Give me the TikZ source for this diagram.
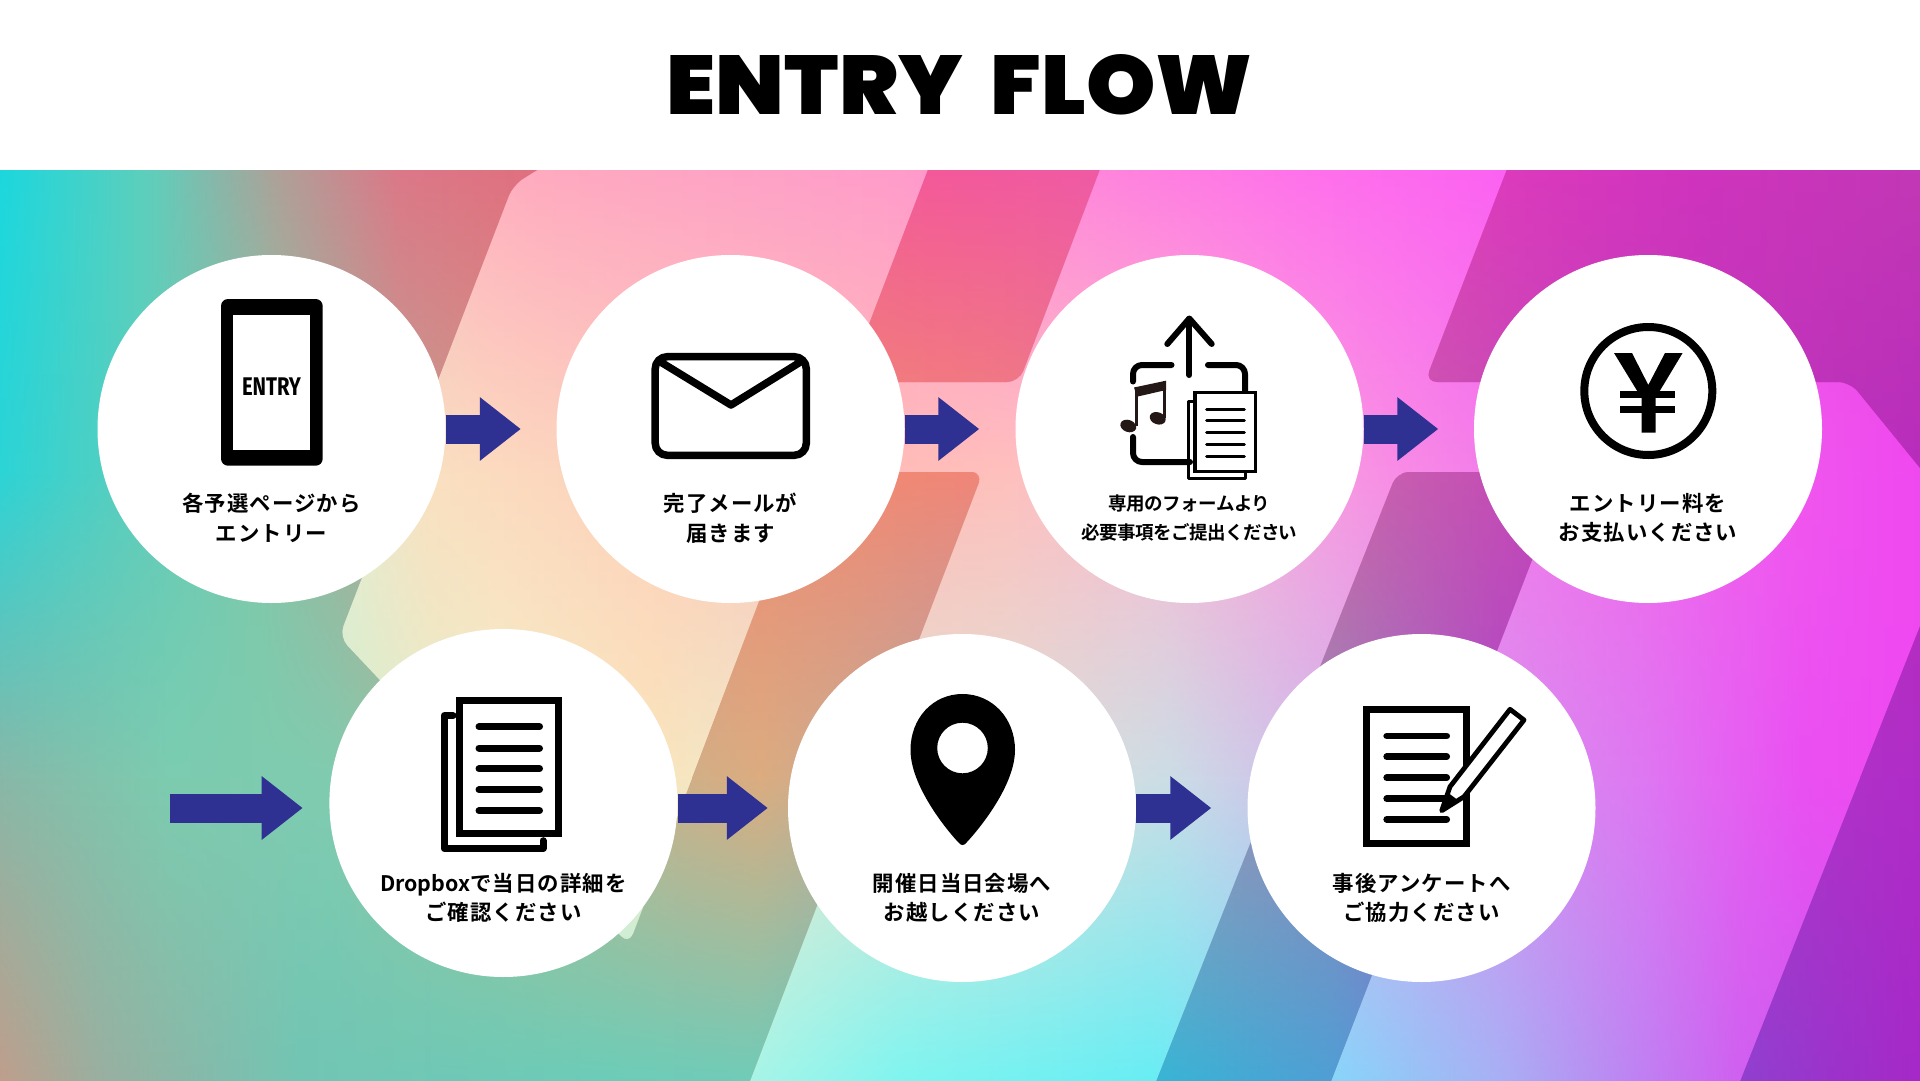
\documentclass[tikz,border=0pt]{standalone}
\usepackage{fontspec}
\usetikzlibrary{arrows.meta,fadings,shapes.geometric}
\newfontfamily\jp{Noto Sans CJK JP Bold}[LetterSpace=5]
\newfontfamily\jptight{Noto Sans CJK JP Bold}[LetterSpace=-3]
\newfontfamily\jplatin{Noto Sans CJK JP Bold}[LetterSpace=0]
\newfontfamily\ttl{Poppins Black}
\newfontfamily\fira{Fira Sans}
\newcommand\hx[1]{\definecolor{x#1}{HTML}{#1}}
\hx{1BD8DE}\hx{5FCFBB}\hx{B0A098}\hx{DC7888}\hx{E0707F}\hx{F4599A}\hx{F05AA5}\hx{DC3ABD}\hx{CF33BE}\hx{C238B5}
\hx{2CD4D6}\hx{55CFC0}\hx{80C8A8}\hx{C0A090}\hx{E09080}\hx{F28A72}\hx{F0857A}\hx{C85CB0}\hx{C040B8}\hx{B82CBC}
\hx{88B8A8}\hx{7CCCB0}\hx{80CCB0}\hx{A0C498}\hx{D0B088}\hx{DCAC80}\hx{AAA8B0}\hx{9488B8}\hx{B048C8}\hx{B02CC8}
\hx{C09E8C}\hx{9AAFA0}\hx{72C5B4}\hx{6CCDB8}\hx{70CCB8}\hx{38B5D5}\hx{4F9FD5}\hx{9040D0}\hx{A628C8}
\hx{60FFFF}\hx{C8D8C8}\hx{FFB0C0}\hx{FFAAC0}\hx{FF9CCB}\hx{FF85DC}\hx{FF72EB}\hx{FC62F2}\hx{E848E0}
\hx{E0F2DC}\hx{FBE0C0}\hx{FFBDB8}\hx{FFC0BC}\hx{FBBCD0}\hx{F88CE6}\hx{F27CEA}\hx{F048F0}
\hx{C8EED0}\hx{F5F0C8}\hx{FBE6BC}\hx{E8E8D0}\hx{E0E0D8}\hx{CCDDE6}\hx{D890F0}\hx{DE78F2}\hx{EA50F2}\hx{F048F2}
\hx{A8F5E8}\hx{80F5F0}\hx{68EEF4}\hx{88D5FA}\hx{A8B0F5}\hx{D060F0}\hx{D050F0}
\pgfdeclarehorizontalshading{dzero}{100bp}{color(0bp)=(x1BD8DE);color(25bp)=(x1BD8DE);color(28.91bp)=(x5FCFBB);color(32.29bp)=(xB0A098);color(35.42bp)=(xDC7888);color(38.8bp)=(xE0707F);color(49.22bp)=(xF4599A);color(53.65bp)=(xF05AA5);color(64.32bp)=(xDC3ABD);color(69.27bp)=(xCF33BE);color(75bp)=(xC238B5);color(100bp)=(xC238B5)}
\pgfdeclarehorizontalshading{done}{100bp}{color(0bp)=(x2CD4D6);color(25bp)=(x2CD4D6);color(28.13bp)=(x55CFC0);color(31.77bp)=(x80C8A8);color(35.42bp)=(xC0A090);color(39.58bp)=(xE09080);color(47.14bp)=(xF28A72);color(51.04bp)=(xF0857A);color(61.46bp)=(xC85CB0);color(66.67bp)=(xC040B8);color(75bp)=(xB82CBC);color(100bp)=(xB82CBC)}
\pgfdeclarehorizontalshading{dtwo}{100bp}{color(0bp)=(x88B8A8);color(25bp)=(x88B8A8);color(29.43bp)=(x7CCCB0);color(33.59bp)=(x80CCB0);color(38.02bp)=(xA0C498);color(42.71bp)=(xD0B088);color(44.79bp)=(xDCAC80);color(51.04bp)=(xAAA8B0);color(59.64bp)=(x9488B8);color(64.06bp)=(xB048C8);color(75bp)=(xB02CC8);color(100bp)=(xB02CC8)}
\pgfdeclarehorizontalshading{dthree}{100bp}{color(0bp)=(xC09E8C);color(25bp)=(xC09E8C);color(27.6bp)=(x9AAFA0);color(32.81bp)=(x72C5B4);color(40.63bp)=(x6CCDB8);color(44.53bp)=(x70CCB8);color(55.21bp)=(x38B5D5);color(59.64bp)=(x4F9FD5);color(70.34bp)=(x9040D0);color(75bp)=(xA628C8);color(100bp)=(xA628C8)}
\pgfdeclarehorizontalshading{lzero}{100bp}{color(0bp)=(x60FFFF);color(25bp)=(x60FFFF);color(32.81bp)=(xC8D8C8);color(37.5bp)=(xFFB0C0);color(39.06bp)=(xFFAAC0);color(48.44bp)=(xFF9CCB);color(53.65bp)=(xFF85DC);color(58.85bp)=(xFF72EB);color(64.06bp)=(xFC62F2);color(75bp)=(xE848E0);color(100bp)=(xE848E0)}
\pgfdeclarehorizontalshading{lone}{100bp}{color(0bp)=(xE0F2DC);color(32.81bp)=(xE0F2DC);color(36.2bp)=(xFBE0C0);color(48.44bp)=(xFFBDB8);color(51.04bp)=(xFFC0BC);color(54.95bp)=(xFBBCD0);color(61.46bp)=(xF88CE6);color(64.06bp)=(xF27CEA);color(75bp)=(xF048F0);color(100bp)=(xF048F0)}
\pgfdeclarehorizontalshading{ltwo}{100bp}{color(0bp)=(xC8EED0);color(32.81bp)=(xC8EED0);color(38.02bp)=(xF5F0C8);color(41.93bp)=(xFBE6BC);color(45.83bp)=(xE8E8D0);color(51.04bp)=(xE0E0D8);color(55.47bp)=(xCCDDE6);color(64.06bp)=(xD890F0);color(67.71bp)=(xDE78F2);color(71.88bp)=(xEA50F2);color(75bp)=(xF048F2);color(100bp)=(xF048F2)}
\pgfdeclarehorizontalshading{lthree}{100bp}{color(0bp)=(xA8F5E8);color(44.53bp)=(xA8F5E8);color(48.44bp)=(x80F5F0);color(54.95bp)=(x68EEF4);color(59.77bp)=(x88D5FA);color(64.06bp)=(xA8B0F5);color(70.34bp)=(xD060F0);color(75bp)=(xD050F0);color(100bp)=(xD050F0)}
\tikzfading[name=fadedown,top color=transparent!100,bottom color=transparent!0]
\newcommand\meshband[4]{%
  \shade[shading=#3] (-1,#1) rectangle (1921,#2);
  \shade[shading=#4,path fading=fadedown] (-1,#1) rectangle (1921,#2);}
\tikzset{
  stepdisc/.style={circle,fill=white,inner sep=0pt,minimum size=348pt},
  caption/.style={align=center,text=black,inner sep=0pt,font=\jp\fontsize{21.4pt}{29.4pt}\selectfont},
  smallcaption/.style={caption,font=\jptight\fontsize{18.5pt}{29.4pt}\selectfont},
  flowarrow/.style={draw=arrowblue,line width=29pt,-{Triangle[length=41pt,width=61pt]}},
  ink/.style={draw=black,fill=none,line cap=round,line join=round},
}
\definecolor{arrowblue}{HTML}{2E3192}
\definecolor{notedark}{HTML}{231815}
\begin{document}
\begin{tikzpicture}[x=1pt,y=-1pt]
\useasboundingbox (0,0) rectangle (1920,1081);
\fill[white] (0,0) rectangle (1920,1081);
\begin{scope}
 \clip (0,170) rectangle (1920,1080);
 % light layer
 \meshband{170}{473.5}{lzero}{lone}
 \meshband{473}{777.5}{lone}{ltwo}
 \meshband{777}{1080}{ltwo}{lthree}
 % dark layer
 \begin{scope}
  \clip[rounded corners=12pt]
    (-40,130) -- (602,130) -- (513,185) -- (339,637) -- (629,945) -- (808,472) -- (983,472) -- (735,1120) -- (-40,1120) -- cycle
    (943,130) -- (1115,130) -- (1019,382) -- (847,382) -- cycle
    (1397,472) -- (1566,472) -- (1316,1120) -- (1141,1120) -- cycle
    (1522,130) -- (1960,130) -- (1960,517) -- (1850,382) -- (1425,382) -- cycle
    (1960,525) -- (1960,1120) -- (1725,1120) -- cycle;
  \meshband{170}{473.5}{dzero}{done}
  \meshband{473}{777.5}{done}{dtwo}
  \meshband{777}{1080}{dtwo}{dthree}
 \end{scope}
\end{scope}
% title
\node[inner sep=0pt] (title) at (960,85) {\resizebox{586pt}{60pt}{\ttl ENTRY\hspace{0.15em} FLOW}};
% discs
\node[stepdisc] (c1) at (271.5,429) {};
\node[stepdisc] (c2) at (730.5,429) {};
\node[stepdisc] (c3) at (1189.5,429) {};
\node[stepdisc] (c4) at (1648,429) {};
\node[stepdisc] (c5) at (503.4,803) {};
\node[stepdisc] (c6) at (962,808) {};
\node[stepdisc] (c7) at (1421.5,808) {};
\coordinate (start) at (169.6,808);
% arrows
\draw[flowarrow,shorten >=35.5pt] (c1.east) -- (c2.west);
\draw[flowarrow,shorten >=36pt] (c2.east) -- (c3.west);
\draw[flowarrow,shorten >=35.5pt] (c3.east) -- (c4.west);
\draw[flowarrow,shorten >=26.5pt] (start) -- (c5.west |- start);
\draw[flowarrow,shorten >=20pt] (c5.east |- c6.center) -- (c6.west);
\draw[flowarrow,shorten >=36pt] (c6.east) -- (c7.west);
% captions
\node[caption] (t1) at (271.5,518) {各予選ページから\\エントリー};
\node[caption] (t2) at (730.5,518) {完了メールが\\届きます};
\node[smallcaption] (t3) at (1189.5,518) {専用のフォームより\\必要事項をご提出ください};
\node[caption] (t4) at (1648,518) {エントリー料を\\お支払いください};
\node[caption] (t5) at (503.4,898) {{\jplatin Dropbox}で当日の詳細を\\ご確認ください};
\node[caption] (t6) at (962,898) {開催日当日会場へ\\お越しください};
\node[caption] (t7) at (1421.5,898) {事後アンケートへ\\ご協力ください};
% phone
\fill[black,rounded corners=7pt] (221,299) rectangle (322.7,465.7);
\fill[white] (233.3,315) rectangle (310,450);
\node[inner sep=0pt] (phonetext) at (271.5,387) {\resizebox{59pt}{17.7pt}{\fira\bfseries ENTRY}};
% envelope
\draw[ink,line width=7.5pt,rounded corners=12pt] (655.2,356.7) rectangle (806.3,455.3);
\draw[ink,line width=7.5pt,line cap=butt] (659,361) -- (731,405) -- (802,361);
% upload icon
\draw[ink,line width=6pt] (1189.3,319) -- (1189.3,375);
\draw[ink,line width=6pt] (1167.3,344) -- (1189.3,318.5) -- (1211.7,344);
\draw[ink,line width=6pt,rounded corners=9pt] (1133,381.5) -- (1133,365) -- (1171.5,365);
\draw[ink,line width=6pt,rounded corners=9pt] (1208,365) -- (1245,365) -- (1245,392);
\draw[ink,line width=6pt,rounded corners=9pt] (1133,437) -- (1133,462) -- (1190,462);
% notes
\fill[notedark] (1134,387.5) -- (1166,380.7) -- (1166,390) -- (1137,396.7) -- cycle;
\draw[notedark,line width=3pt] (1136.5,387.5) -- (1136.5,426);
\draw[notedark,line width=3pt] (1164.5,381) -- (1164.5,418);
\fill[notedark,rotate around={-20:(1128.3,426)}] (1128.3,426) ellipse [x radius=8.2,y radius=6];
\fill[notedark,rotate around={-20:(1157.7,418.3)}] (1157.7,418.3) ellipse [x radius=8.2,y radius=6];
% pages of upload icon
\draw[ink,line width=3pt,line cap=round] (1194,401.7) -- (1188.3,401.7) -- (1188.3,478) -- (1245.7,478) -- (1245.7,473);
\draw[black,fill=white,line width=3.3pt,miter limit=10] (1195,392.3) rectangle (1255.7,471.7);
\foreach \ly in {409,420.7,432.7,444.3,456}
  \draw[ink,line width=3pt] (1206.7,\ly) -- (1244.3,\ly);
% yen
\draw[black,line width=8pt] (1648.3,391) circle [radius=64];
\fill[black] (1614,353) -- (1632,353) -- (1648.3,385) -- (1665,353) -- (1682.6,353) -- (1655.5,398) -- (1655.5,432.7) -- (1641.5,432.7) -- (1641.5,398) -- cycle;
\fill[black] (1620,390.7) rectangle (1675,397.7);
\fill[black] (1620,405.7) rectangle (1675,412.7);
% doc icon
\draw[ink,line width=7pt] (453,715.7) -- (444,715.7) -- (444,848.5) -- (543,848.5) -- (543,840.7);
\draw[black,fill=white,line width=7pt] (459.1,700.8) rectangle (558.5,833.8);
\foreach \ly in {726.7,748,768.7,789.7,810.7}
  \draw[ink,line width=7pt] (479,\ly) -- (539.5,\ly);
% pin
\fill[black,even odd rule] (962.5,694) .. controls (933,694) and (910.5,718) .. (910.5,750) .. controls (910.5,785) and (945,828) .. (958,842) .. controls (961,846) and (964,846) .. (967,842) .. controls (980,828) and (1015,785) .. (1015,750) .. controls (1015,718) and (992,694) .. (962.5,694) -- cycle (962.5,748) circle [radius=25.3];
% questionnaire
\draw[black,line width=7pt] (1366,709.3) rectangle (1466,843.3);
\foreach \ly in {736,756.7,777.7,798.7,819.3}
  \draw[ink,line width=6.7pt] (1386.7,\ly) -- (1446.7,\ly);
\draw[black,fill=white,line width=4.8pt,line join=round] (1510,709.3) -- (1524,720) -- (1464,796.7) -- (1441.7,810.7) -- (1450,786.7) -- cycle;
\fill[black] (1441.7,810.7) -- (1447,792) -- (1459,801) -- cycle;
\end{tikzpicture}
\end{document}
